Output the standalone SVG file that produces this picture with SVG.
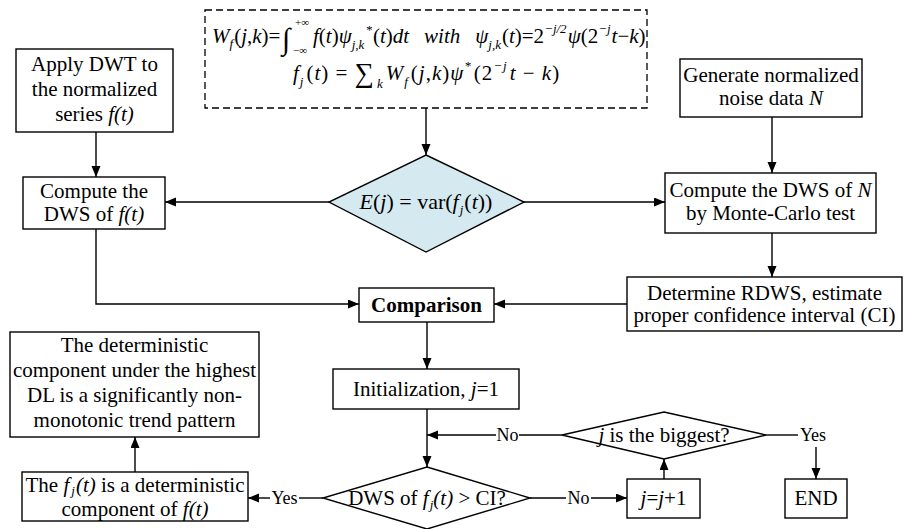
<svg xmlns="http://www.w3.org/2000/svg" width="908" height="529" viewBox="0 0 908 529">
  <defs>
    <marker id="arrow" markerUnits="userSpaceOnUse" markerWidth="12" markerHeight="10" refX="11" refY="4.5" orient="auto">
      <path d="M0,0 L11,4.5 L0,9 z" fill="#000"/>
    </marker>
    <style>
      text { font-family: "Liberation Serif", "Times New Roman", serif; fill: #000; }
      .t { font-size: 21px; text-anchor: middle; }
      .b { font-weight: bold; }
      .i { font-style: italic; }
      .lbl { font-size: 18px; text-anchor: middle; }
      .box { fill: #fff; stroke: #000; stroke-width: 1.4; }
      .dia { fill: #fff; stroke: #000; stroke-width: 1.4; }
      .blue { fill: #d5eaf0; }
      .dash { fill: #fff; stroke: #000; stroke-width: 1.3; stroke-dasharray: 7 4; }
      .f { font-size: 21px; font-style: italic; }
      .r { font-style: normal; }
      .s { font-size: 13px; font-style: italic; }
      .conn path { fill: none; stroke: #000; stroke-width: 1.4; }
      .conn .arr { marker-end: url(#arrow); }
    </style>
  </defs>

  <rect width="908" height="529" fill="#fff"/>

  <!-- wavelet transform and reconstruction formulas -->
  <g id="formula">
    <rect class="dash" x="205" y="10" width="442" height="98"/>
    <text class="f" x="212" y="43">W<tspan class="s" dy="5">f</tspan><tspan class="r" dy="-5" dx="1">(</tspan>j<tspan class="r">,</tspan>k<tspan class="r">)=</tspan></text>
    <text x="282" y="49" style="font-size:30px">∫</text>
    <text x="295" y="26" style="font-size:11px">+∞</text>
    <text x="293" y="54" style="font-size:11px">−∞</text>
    <text class="f" x="313" y="43">f<tspan class="r">(</tspan>t<tspan class="r">)</tspan>ψ<tspan class="s" dy="6">j,k</tspan><tspan class="s" dx="1" dy="-15">*</tspan><tspan class="r" dy="9" dx="1">(</tspan>t<tspan class="r">)</tspan>dt<tspan dx="15">with</tspan><tspan dx="15">ψ</tspan><tspan class="s" dy="6">j,k</tspan><tspan class="r" dy="-6" dx="1">(</tspan>t<tspan class="r">)=2</tspan><tspan class="s" dy="-10">−j/2</tspan><tspan dy="10" dx="1">ψ</tspan><tspan class="r">(2</tspan><tspan class="s" dy="-10">−j</tspan><tspan dy="10" dx="1">t</tspan><tspan class="r">−</tspan>k<tspan class="r">)</tspan></text>

    <text class="f" x="293" y="80" letter-spacing="1">f<tspan class="s" dy="6">j</tspan><tspan class="r" dy="-6" dx="2">(</tspan>t<tspan class="r">) = </tspan><tspan class="r" style="font-size:27px" dy="2">∑</tspan><tspan class="s" dy="6" dx="2">k</tspan><tspan dy="-8" dx="2">W</tspan><tspan class="s" dy="6">f</tspan><tspan class="r" dy="-6" dx="2">(</tspan>j<tspan class="r">,</tspan>k<tspan class="r">)</tspan>ψ<tspan class="s" dy="-10">*</tspan><tspan class="r" dy="10" dx="2">(2</tspan><tspan class="s" dy="-10">−j</tspan><tspan dy="10" dx="2">t</tspan><tspan class="r"> − </tspan>k<tspan class="r">)</tspan></text>
  </g>

  <g id="apply-dwt">
    <rect class="box" x="16" y="49" width="157" height="83"/>
    <text class="t" x="94.5" y="71">Apply DWT to</text>
    <text class="t" x="94.5" y="96">the normalized</text>
    <text class="t" x="94.5" y="121">series <tspan class="i">f(t)</tspan></text>
  </g>

  <g id="compute-dws-f">
    <rect class="box" x="23" y="177" width="142" height="52"/>
    <text class="t" x="94" y="198">Compute the</text>
    <text class="t" x="94" y="221">DWS of <tspan class="i">f(t)</tspan></text>
  </g>

  <g id="energy">
    <polygon class="dia blue" points="426,155 524,202 426,252 329,202"/>
    <text class="t" x="426" y="209" style="font-size:22px"><tspan class="i">E</tspan>(<tspan class="i">j</tspan>) = var(<tspan class="i">f</tspan><tspan class="i" dy="5" dx="1" style="font-size:13px">j</tspan><tspan dy="-5" dx="1">(</tspan><tspan class="i">t</tspan>))</text>
  </g>

  <g id="generate-noise">
    <rect class="box" x="680" y="59" width="182" height="58"/>
    <text class="t" x="771" y="82">Generate normalized</text>
    <text class="t" x="771" y="105">noise data  <tspan class="i">N</tspan></text>
  </g>

  <g id="compute-dws-n">
    <rect class="box" x="665" y="173" width="211" height="60"/>
    <text class="t" x="770.5" y="197">Compute the DWS of <tspan class="i">N</tspan></text>
    <text class="t" x="770.5" y="220">by Monte-Carlo test</text>
  </g>

  <g id="determine-ci">
    <rect class="box" x="627" y="277" width="275" height="54"/>
    <text class="t" x="764.5" y="300">Determine RDWS, estimate</text>
    <text class="t" x="764.5" y="322">proper confidence interval (CI)</text>
  </g>

  <g id="comparison">
    <rect class="box" x="359" y="288" width="135" height="34"/>
    <text class="t b" x="426.5" y="312">Comparison</text>
  </g>

  <g id="initialization">
    <rect class="box" x="333" y="369" width="186" height="40"/>
    <text class="t" x="426" y="396">Initialization, <tspan class="i">j</tspan>=1</text>
  </g>

  <g id="test-ci">
    <polygon class="dia" points="427,467 530,498 427,529 323,498"/>
    <text class="t" x="427" y="505">DWS of <tspan class="i">f</tspan><tspan class="i" dy="4" dx="1" style="font-size:13px">j</tspan><tspan class="i" dy="-4">(t)</tspan> &gt; CI?</text>
  </g>

  <g id="deterministic-component">
    <rect class="box" x="22" y="472" width="226" height="49"/>
    <text class="t" x="135" y="492">The <tspan class="i">f</tspan><tspan class="i" dy="3" dx="2" style="font-size:13px">j</tspan><tspan class="i" dy="-3" dx="1">(t)</tspan> is a deterministic</text>
    <text class="t" x="135" y="516">component of  <tspan class="i">f(t)</tspan></text>
  </g>

  <g id="trend-pattern">
    <rect class="box" x="10" y="332" width="249" height="105"/>
    <text class="t" x="134.5" y="352">The deterministic</text>
    <text class="t" x="134.5" y="377">component under the highest</text>
    <text class="t" x="134.5" y="402">DL is a significantly non-</text>
    <text class="t" x="134.5" y="427">monotonic trend pattern</text>
  </g>

  <g id="biggest">
    <polygon class="dia" points="664,412 766,435 664,459 562,435"/>
    <text class="t" x="664" y="442"><tspan class="i">j</tspan> is the biggest?</text>
  </g>

  <g id="increment">
    <rect class="box" x="627" y="479" width="73" height="39"/>
    <text class="t" x="663.5" y="505"><tspan class="i">j</tspan>=<tspan class="i">j</tspan>+1</text>
  </g>

  <g id="end">
    <rect class="box" x="785" y="479" width="62" height="39"/>
    <text class="t" x="816" y="505">END</text>
  </g>

  <g id="connectors" class="conn">
    <path class="arr" d="M96,132 V177"/>
    <path class="arr" d="M329,202 H165"/>
    <path class="arr" d="M426,108 V155"/>
    <path class="arr" d="M524,202 H665"/>
    <path class="arr" d="M772,117 V173"/>
    <path class="arr" d="M772,233 V277"/>
    <path class="arr" d="M96,229 V304 H359"/>
    <path class="arr" d="M627,304 H494"/>
    <path class="arr" d="M427,322 V369"/>
    <path class="arr" d="M427,409 V467"/>
    <path d="M562,435 H519"/>
    <path class="arr" d="M496,435 H427"/>
    <path d="M530,498 H566"/>
    <path class="arr" d="M591,498 H627"/>
    <path class="arr" d="M664,479 V459"/>
    <path d="M766,435 H798"/>
    <path class="arr" d="M816,447 V479"/>
    <path d="M323,498 H299"/>
    <path class="arr" d="M270,498 H248"/>
    <path class="arr" d="M135,472 V437"/>
  </g>

  <g id="labels">
    <text class="lbl" x="507.5" y="441">No</text>
    <text class="lbl" x="578.5" y="504">No</text>
    <text class="lbl" x="813" y="441">Yes</text>
    <text class="lbl" x="284.5" y="504">Yes</text>
  </g>
</svg>
